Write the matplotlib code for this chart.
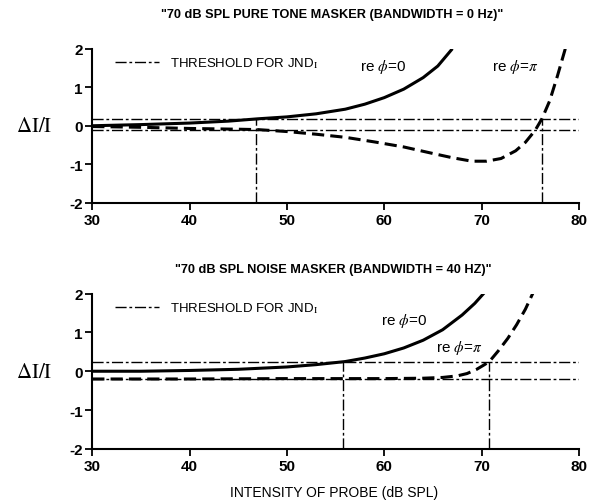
import numpy as np
import matplotlib
matplotlib.use("Agg")
from matplotlib import pyplot as plt
from matplotlib.lines import Line2D

plt.rcParams['font.family'] = ['Liberation Sans', 'DejaVu Sans']
plt.rcParams['mathtext.fontset'] = 'stix'
plt.rcParams['axes.unicode_minus'] = False

# panel 1: pure tone masker
top_x_phi0 = [30, 35, 40, 44, 47, 50, 53, 56, 58, 60, 62, 64, 65.5, 67]
top_y_phi0 = [0.00, 0.03, 0.07, 0.12, 0.18, 0.23, 0.31, 0.43, 0.56, 0.73, 0.95, 1.25, 1.55, 2.0]
top_x_phipi = [30, 35, 40, 45, 47, 50, 53, 56, 59, 62, 65, 67, 69, 70.5, 72, 73.5, 74.5,
               75.5, 76.2, 77, 77.8, 78.6]
top_y_phipi = [-0.02, -0.04, -0.07, -0.09, -0.10, -0.15, -0.22, -0.30, -0.42, -0.55, -0.72,
               -0.83, -0.92, -0.92, -0.85, -0.65, -0.43, -0.12, 0.18, 0.65, 1.3, 2.0]
top_thresh = [0.18, -0.10]
top_cross = [46.8, 76.2]

# panel 2: noise masker
bot_x_phi0 = [30, 35, 40, 45, 50, 53, 56, 58, 60, 62, 64, 66, 68, 69.3, 70.3]
bot_y_phi0 = [0.0, 0.0, 0.02, 0.05, 0.11, 0.17, 0.25, 0.34, 0.45, 0.6, 0.8, 1.07, 1.45, 1.75, 2.03]
bot_x_phipi = [30, 40, 50, 60, 64, 66, 67.5, 68.5, 69.5, 70.3, 70.8, 71.7, 72.7, 73.6, 74.5, 75.3]
bot_y_phipi = [-0.2, -0.2, -0.19, -0.19, -0.18, -0.16, -0.12, -0.06, 0.05, 0.17, 0.25, 0.52,
               0.85, 1.2, 1.6, 2.03]
bot_thresh = [0.25, -0.20]
bot_cross = [55.8, 70.8]

xticks = [30, 40, 50, 60, 70, 80]
yticks = [-2, -1, 0, 1, 2]

fig = plt.figure(figsize=(5.95, 5.02), dpi=100)
ax1 = fig.add_axes([0.155, 0.594, 0.818, 0.307])
ax2 = fig.add_axes([0.155, 0.104, 0.818, 0.309])

dashdot = (0, (8, 2, 2, 2))


def draw_panel(ax, xs0, ys0, xspi, yspi, thresh, cross):
    ax.plot(xs0, ys0, color='black', lw=2.2, solid_capstyle='butt')
    ax.plot(xspi, yspi, color='black', lw=2.2, linestyle=(0, (4, 2)))
    for t in thresh:
        ax.axhline(t, color='black', lw=1.0, linestyle=dashdot)
    for c in cross:
        ax.plot([c, c], [-2, thresh[0]], color='black', lw=1.0, linestyle=dashdot)

    ax.set_xlim(30, 80)
    ax.set_ylim(-2, 2)
    ax.set_xticks(xticks)
    ax.set_yticks(yticks)
    for s in ['top', 'right']:
        ax.spines[s].set_visible(False)
    for s in ['left', 'bottom']:
        ax.spines[s].set_linewidth(1.5)
    ax.tick_params(direction='out', length=5, width=1.3, labelsize=11, pad=2)
    for lab in ax.get_xticklabels() + ax.get_yticklabels():
        lab.set_fontweight('bold')

    h = Line2D([], [], color='black', lw=1.0, linestyle=dashdot)
    ax.legend([h], [r'THRESHOLD FOR JND$_{\mathrm{I}}$'], loc='upper left',
              bbox_to_anchor=(0.035, 0.99), frameon=False, handlelength=3.4,
              handletextpad=0.8, borderaxespad=0, prop={'size': 9.5})
    ax.text(-0.119, 0.5, r'$\Delta\mathrm{I/I}$', transform=ax.transAxes, fontsize=15,
            ha='center', va='center')


draw_panel(ax1, top_x_phi0, top_y_phi0, top_x_phipi, top_y_phipi, top_thresh, top_cross)
draw_panel(ax2, bot_x_phi0, bot_y_phi0, bot_x_phipi, bot_y_phipi, bot_thresh, bot_cross)

lab0 = r're $\phi$=0'
labpi = r're $\phi$=$\pi$'
ax1.text(59.9, 1.56, lab0, fontsize=11, ha='center', va='center')
ax1.text(73.5, 1.56, labpi, fontsize=11, ha='center', va='center')
ax2.text(62.0, 1.31, lab0, fontsize=11, ha='center', va='center')
ax2.text(67.7, 0.62, labpi, fontsize=11, ha='center', va='center')

fig.text(0.558, 0.97, '"70 dB SPL PURE TONE MASKER (BANDWIDTH = 0 Hz)"',
         ha='center', va='center', fontsize=9.2, fontweight='bold')
fig.text(0.56, 0.462, '"70 dB SPL NOISE MASKER (BANDWIDTH = 40 HZ)"',
         ha='center', va='center', fontsize=9.2, fontweight='bold')
fig.text(0.561, 0.018, 'INTENSITY OF PROBE (dB SPL)', ha='center', va='center', fontsize=10)

fig.savefig('out.png', dpi=100)
